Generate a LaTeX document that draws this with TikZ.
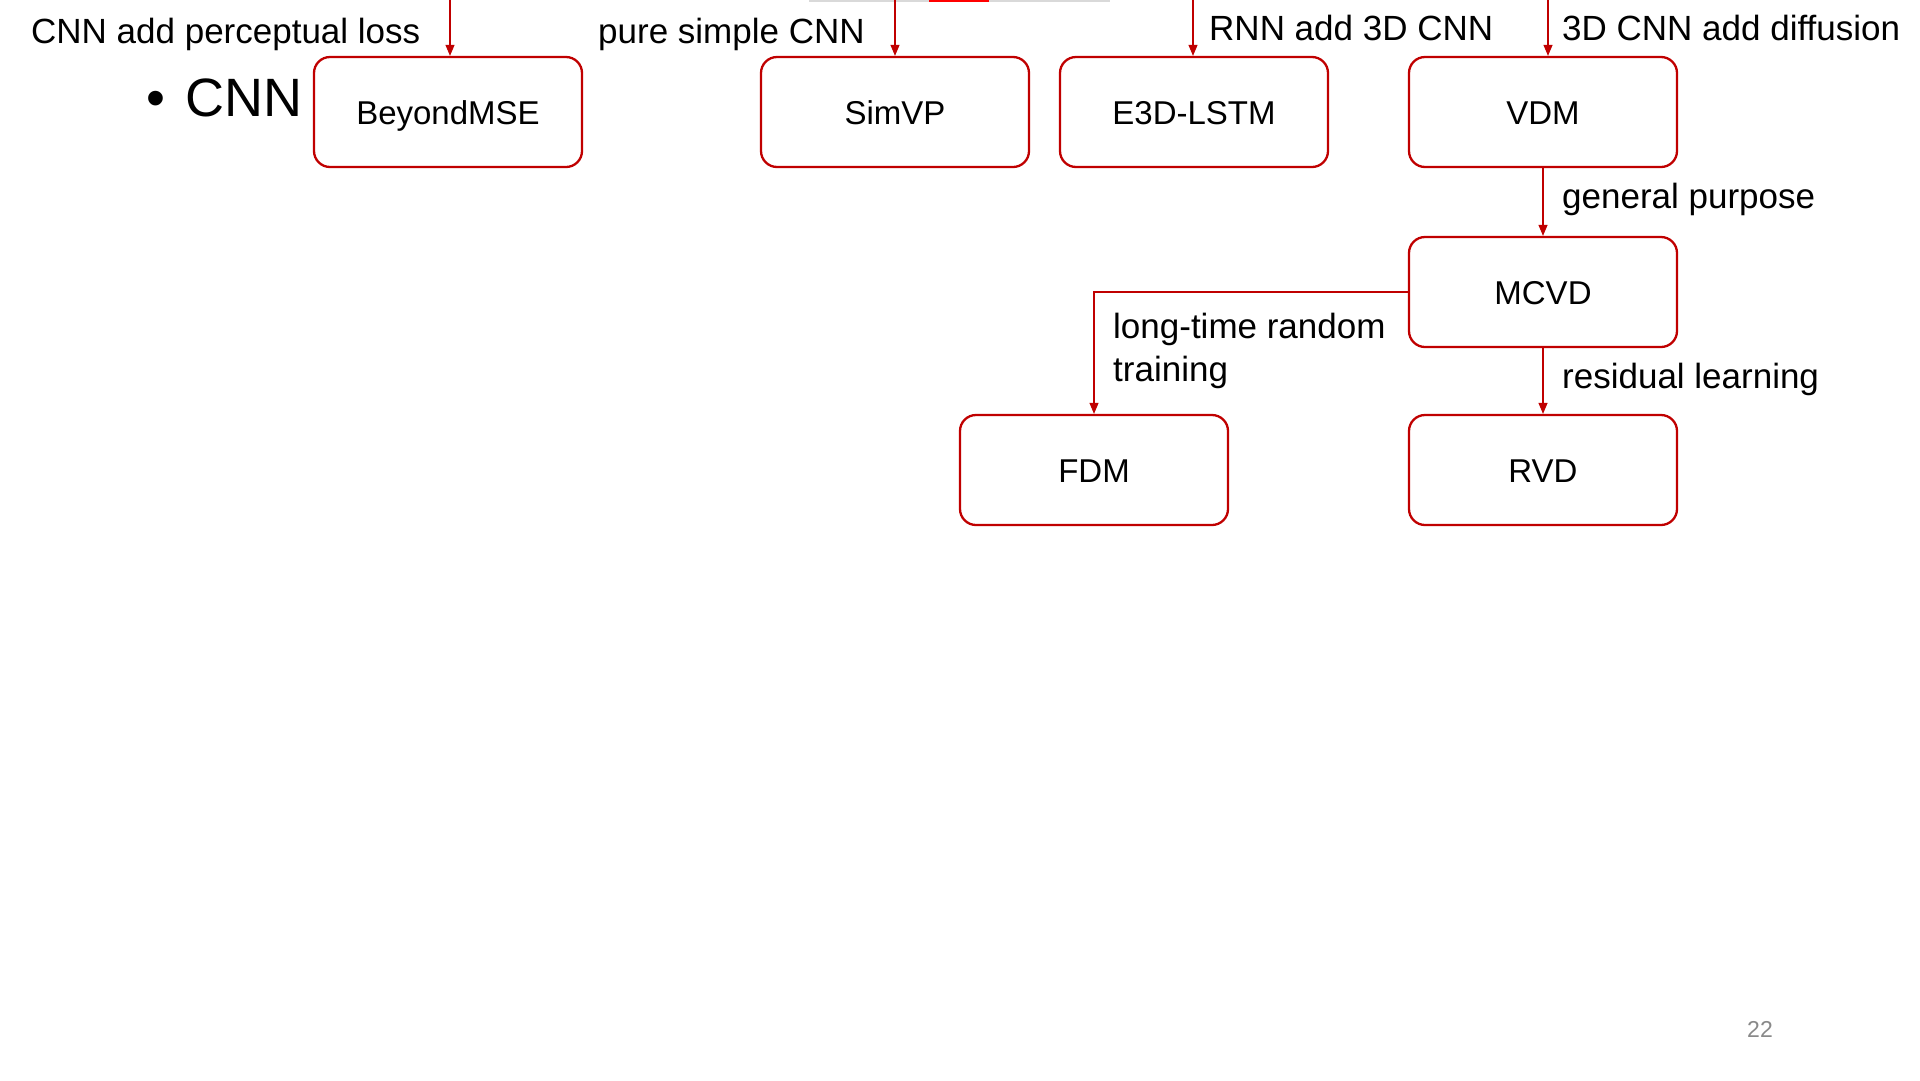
\documentclass[tikz,border=0pt]{standalone}
\usepackage{fontspec}
\setmainfont{Liberation Sans}
\usetikzlibrary{arrows.meta}
\definecolor{boxred}{HTML}{C00000}
\definecolor{pgray}{HTML}{898989}
\begin{document}
\begin{tikzpicture}[x=1pt,y=-1pt,
  model/.style={draw=boxred, line width=2.3pt, rounded corners=16pt, minimum width=268pt, minimum height=110pt, inner sep=0pt, text height=24pt, text depth=0pt, font=\fontsize{33}{39}\selectfont},
  conn/.style={draw=boxred, line width=1.1pt, -{Triangle[length=11pt,width=9pt]}},
  lbl/.style={anchor=base west, inner sep=0pt, font=\fontsize{35}{42}\selectfont}]
\useasboundingbox (0,0) rectangle (1920,1080);
\fill[white] (0,0) rectangle (1920,1080);
% cut-off element at the top edge
\draw[line width=2pt, draw={rgb,255:red,217;green,217;blue,217}] (809,0.5) -- (1110,0.5);
\draw[line width=2pt, draw={rgb,255:red,255;green,0;blue,0}] (929,0.5) -- (989,0.5);
% bullet
\node[anchor=base west, inner sep=0pt, font=\fontsize{54}{62}\selectfont] (cnn) at (146,116) {\makebox[39pt][l]{\textbullet}CNN};
% boxes
\node[model] (beyond) at (448,112) {BeyondMSE};
\node[model] (simvp) at (895,112) {SimVP};
\node[model] (e3d) at (1194,112) {E3D-LSTM};
\node[model] (vdm) at (1543,112) {VDM};
\node[model] (mcvd) at (1543,292) {MCVD};
\node[model] (fdm) at (1094,470) {FDM};
\node[model] (rvd) at (1543,470) {RVD};
% free ends at the top
\coordinate (tb) at (450,0);
\coordinate (ts) at (895,0);
\coordinate (te) at (1193,0);
\coordinate (tv) at (1548,0);
\draw[conn] (tb) -- (tb |- beyond.north);
\draw[conn] (ts) -- (ts |- simvp.north);
\draw[conn] (te) -- (te |- e3d.north);
\draw[conn] (tv) -- (tv |- vdm.north);
\draw[conn] (vdm.south) -- (mcvd.north);
\draw[conn] (mcvd.south) -- (rvd.north);
\draw[conn] (mcvd.west) -| (fdm.north);
% labels
\node[lbl] (l1) at (31,43) {CNN add perceptual loss};
\node[lbl] (l2) at (598,43) {pure simple CNN};
\node[lbl] (l3) at (1209,40) {RNN add 3D CNN};
\node[lbl] (l4) at (1562,40) {3D CNN add diffusion};
\node[lbl] (l5) at (1562,208) {general purpose};
\node[lbl] (l6) at (1113,338) {long-time random};
\node[lbl] (l7) at (1113,381) {training};
\node[lbl] (l8) at (1562,388) {residual learning};
% page number
\node[anchor=base west, inner sep=0pt, text=pgray, font=\fontsize{23}{28}\selectfont] (pg) at (1747,1037) {22};
\end{tikzpicture}
\end{document}
